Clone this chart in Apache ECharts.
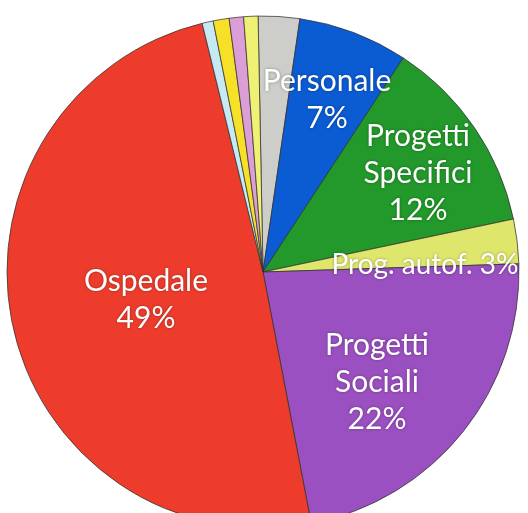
<!DOCTYPE html>
<html><head><meta charset="utf-8">
<script src="https://cdn.jsdelivr.net/npm/echarts@6/dist/echarts.min.js"></script>
<style>html,body{margin:0;padding:0;background:#fff}#c{width:528px;height:513px}</style>
</head><body><div id="c"></div>
<script>
const categories = ['Altro', 'Personale', 'Progetti Specifici', 'Prog. autof.', 'Progetti Sociali', 'Ospedale', 'Voce A', 'Voce B', 'Voce C', 'Voce D'];
const values = [2.6, 6.9, 12.4, 2.8, 22.4, 49.0, 0.7, 1.0, 0.9, 0.9];
const labels = ['', 'Personale\n7%', 'Progetti\nSpecifici\n12%', 'Prog. autof. 3%', 'Progetti\nSociali\n22%', 'Ospedale\n49%', '', '', '', ''];
const colors = ['#cdcdc9', '#0b5bd3', '#22992a', '#dfe66c', '#9b50c1', '#ee3c2c', '#c6e9f4', '#f7e128', '#dc9ed6', '#eef173'];
// label anchor points (text block centres)
const labelX = [0, 327, 418, 425, 377, 146];
const labelY = [0, 100, 173, 265, 382, 300];

const chart = echarts.init(document.getElementById('c'));
chart.setOption({
  animation: false,
  series: [{
    type: 'pie',
    center: [263, 272],
    radius: 256,
    startAngle: 91.1,
    clockwise: true,
    data: categories.map((c, i) => ({
      name: c, value: values[i],
      itemStyle: { color: colors[i] },
      label: { show: labels[i] !== '', formatter: labels[i], fontSize: i === 3 ? 28 : 30 }
    })),
    itemStyle: { borderColor: 'rgba(50,50,50,0.75)', borderWidth: 1 },
    label: {
      position: 'inside', color: '#fff', fontFamily: 'Lato', fontSize: 30, lineHeight: 37,
      textShadowColor: 'rgba(0,0,0,0.35)', textShadowBlur: 3
    },
    labelLine: { show: false },
    labelLayout: function (p) {
      const i = p.dataIndex;
      if (!labels[i]) return {};
      return { x: labelX[i], y: labelY[i], align: 'center', verticalAlign: 'middle', hideOverlap: false };
    }
  }]
});
</script></body></html>
